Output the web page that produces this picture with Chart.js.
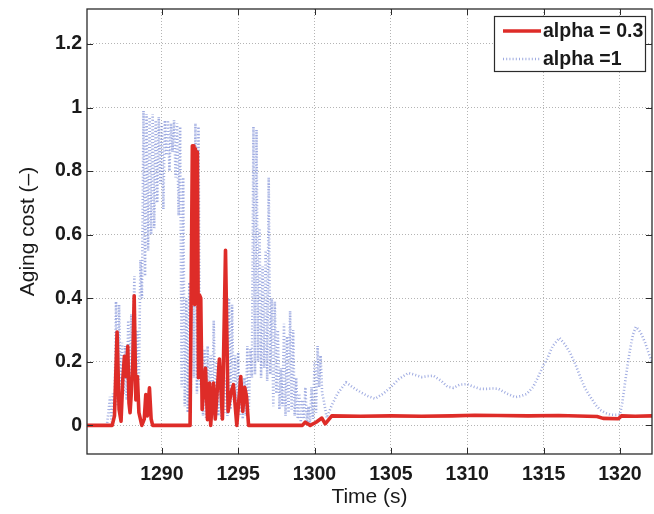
<!DOCTYPE html>
<html>
<head>
<meta charset="utf-8">
<title>Aging cost</title>
<script src="https://cdn.jsdelivr.net/npm/chart.js@4/dist/chart.umd.min.js"></script>
<style>
    html, body { margin: 0; padding: 0; background: #fff; }
    #wrap { width: 654px; height: 514px; }
</style>
</head>
<body>
<div id="wrap"><canvas id="cost-chart" width="654" height="514"></canvas></div>
<script>
// alpha = 0.3 run
const redTime = [
    1285.1, 1286.75, 1286.9, 1287.07, 1287.2, 1287.33, 1287.45, 1287.55, 1287.66, 1287.77,
    1287.85, 1287.92, 1288.0, 1288.1, 1288.19, 1288.3, 1288.4, 1288.5, 1288.69, 1288.85,
    1288.95, 1289.05, 1289.19, 1289.3, 1289.4, 1291.85, 1292.0, 1292.05, 1292.1, 1292.15,
    1292.2, 1292.27, 1292.33, 1292.4, 1292.47, 1292.55, 1292.64, 1292.86, 1292.99, 1293.12,
    1293.2, 1293.38, 1293.5, 1293.77, 1293.97, 1294.17, 1294.34, 1294.52, 1294.69, 1294.91,
    1295.17, 1295.3, 1295.43, 1295.55, 1295.68, 1299.2, 1299.39, 1299.72, 1300.1, 1300.48,
    1300.7, 1301.13, 1303.0, 1305.0, 1307.0, 1309.0, 1310.5, 1312.0, 1314.0, 1316.0,
    1318.5, 1318.9, 1319.9, 1320.1, 1321.0, 1322.1
];
const redCost = [
    0, 0, 0.03, 0.294, 0.05, 0.013, 0.15, 0.217, 0.154, 0.249,
    0.07, 0.04, 0.1, 0.2, 0.408, 0.08, 0.154, 0.04, 0.0, 0.02,
    0.097, 0.03, 0.118, 0.02, 0.0, 0, 0.88, 0.62, 0.88, 0.38,
    0.87, 0.64, 0.86, 0.15, 0.41, 0.40, 0.05, 0.18, 0.018, 0.133,
    0.0, 0.133, 0.02, 0.209, 0.02, 0.551, 0.044, 0.102, 0.128, 0.0,
    0.154, 0.044, 0.12, 0.09, 0.0, 0, 0.01, 0.0, 0.01, 0.023,
    0.005, 0.03, 0.029, 0.03, 0.029, 0.03, 0.032, 0.031, 0.03, 0.031,
    0.028, 0.022, 0.021, 0.03, 0.029, 0.03
];

// alpha = 1 run
const blueTime = [
    1285.1, 1286.4, 1286.5, 1286.6, 1286.7, 1286.8, 1286.9, 1287.0, 1287.1, 1287.2,
    1287.3, 1287.4, 1287.5, 1287.6, 1287.7, 1287.8, 1287.9, 1288.0, 1288.1, 1288.2,
    1288.3, 1288.4, 1288.5, 1288.6, 1288.7, 1288.8, 1288.9, 1289.0, 1289.1, 1289.2,
    1289.3, 1289.4, 1289.5, 1289.6, 1289.7, 1289.8, 1289.9, 1290.0, 1290.1, 1290.2,
    1290.3, 1290.4, 1290.5, 1290.6, 1290.7, 1290.8, 1290.9, 1291.0, 1291.1, 1291.2,
    1291.3, 1291.4, 1291.5, 1291.6, 1291.7, 1291.8, 1291.9, 1292.0, 1292.1, 1292.2,
    1292.3, 1292.4, 1292.5, 1292.6, 1292.7, 1292.8, 1292.9, 1293.0, 1293.1, 1293.2,
    1293.3, 1293.4, 1293.5, 1293.6, 1293.7, 1293.8, 1293.9, 1294.0, 1294.1, 1294.2,
    1294.3, 1294.4, 1294.5, 1294.6, 1294.7, 1294.8, 1294.9, 1295.0, 1295.1, 1295.2,
    1295.3, 1295.4, 1295.5, 1295.6, 1295.7, 1295.8, 1295.9, 1296.0, 1296.1, 1296.2,
    1296.3, 1296.4, 1296.5, 1296.6, 1296.7, 1296.8, 1296.9, 1297.0, 1297.1, 1297.2,
    1297.3, 1297.4, 1297.5, 1297.6, 1297.7, 1297.8, 1297.9, 1298.0, 1298.1, 1298.2,
    1298.3, 1298.4, 1298.5, 1298.6, 1298.7, 1298.8, 1298.9, 1299.0, 1299.1, 1299.2,
    1299.3, 1299.4, 1299.5, 1299.6, 1299.7, 1299.8, 1299.9, 1300.0, 1300.1, 1300.2,
    1300.3, 1300.4, 1300.5, 1300.6, 1300.8, 1301.1, 1301.5, 1302.07, 1302.5, 1303.0,
    1303.5, 1303.97, 1304.5, 1305.0, 1305.5, 1306.15, 1306.5, 1307.0, 1307.4, 1307.8,
    1308.3, 1308.7, 1309.1, 1309.5, 1309.97, 1310.4, 1310.85, 1311.28, 1311.7, 1312.05,
    1312.6, 1313.14, 1313.5, 1313.9, 1314.3, 1314.56, 1315.0, 1315.21, 1315.6, 1316.04,
    1316.4, 1316.74, 1317.1, 1317.39, 1317.7, 1318.05, 1318.4, 1318.7, 1319.0, 1319.36,
    1319.7, 1320.0, 1320.15, 1320.33, 1320.5, 1320.66, 1320.85, 1321.04, 1321.25, 1321.43,
    1321.65, 1321.87, 1322.1
];
const blueCost = [
    0, 0, 0.04, 0.09, 0.01, 0.10, 0.03, 0.39, 0.06, 0.38,
    0.12, 0.26, 0.10, 0.25, 0.08, 0.33, 0.12, 0.35, 0.18, 0.47,
    0.10, 0.30, 0.14, 0.52, 0.40, 0.99, 0.47, 0.98, 0.55, 0.97,
    0.60, 0.98, 0.62, 0.96, 0.70, 0.97, 0.76, 0.95, 0.68, 0.96,
    0.85, 0.96, 0.80, 0.95, 0.86, 0.96, 0.78, 0.95, 0.66, 0.94,
    0.12, 0.78, 0.06, 0.40, 0.04, 0.45, 0.10, 0.80, 0.15, 0.95,
    0.10, 0.94, 0.12, 0.30, 0.03, 0.24, 0.02, 0.25, 0.04, 0.22,
    0.05, 0.33, 0.02, 0.20, 0.03, 0.18, 0.02, 0.16, 0.04, 0.15,
    0.03, 0.40, 0.05, 0.38, 0.08, 0.22, 0.02, 0.23, 0.03, 0.12,
    0.02, 0.15, 0.03, 0.25, 0.05, 0.24, 0.15, 0.94, 0.16, 0.93,
    0.20, 0.62, 0.15, 0.50, 0.18, 0.55, 0.14, 0.78, 0.16, 0.40,
    0.06, 0.39, 0.10, 0.30, 0.05, 0.18, 0.06, 0.32, 0.03, 0.28,
    0.04, 0.36, 0.05, 0.30, 0.03, 0.15, 0.02, 0.10, 0.01, 0.08,
    0.02, 0.12, 0.01, 0.06, 0.00, 0.12, 0.02, 0.20, 0.04, 0.25,
    0.12, 0.22, 0.10, 0.08, 0.024, 0.06, 0.10, 0.135, 0.12, 0.105,
    0.092, 0.084, 0.10, 0.12, 0.145, 0.165, 0.16, 0.152, 0.155, 0.156,
    0.14, 0.122, 0.118, 0.128, 0.13, 0.122, 0.115, 0.115, 0.116, 0.115,
    0.10, 0.089, 0.092, 0.099, 0.12, 0.144, 0.19, 0.207, 0.25, 0.275,
    0.255, 0.228, 0.19, 0.154, 0.118, 0.091, 0.065, 0.049, 0.04, 0.034,
    0.033, 0.034, 0.07, 0.133, 0.19, 0.238, 0.285, 0.31, 0.30, 0.285,
    0.26, 0.228, 0.20
];

const xTicks = [1290, 1295, 1300, 1305, 1310, 1315, 1320];
const yTicks = [0, 0.2, 0.4, 0.6, 0.8, 1, 1.2];
const seriesLabels = ['alpha = 0.3', 'alpha =1'];

const RED = '#de2c28';
const BLUE = 'rgba(95, 115, 205, 0.6)';
const AXIS = '#2b2b2b';
const FAMILY = '"Liberation Sans", Arial, sans-serif';
const tickFont = { family: FAMILY, size: 19.5, weight: 'bold' };
const titleFont = { family: FAMILY, size: 21, weight: 'normal' };

const toPoints = (xs, ys) => xs.map((x, i) => ({ x: x, y: ys[i] }));

// box, inward tick marks and the legend panel
const framePlugin = {
    id: 'frame',
    afterDatasetsDraw(chart) {
        const { ctx, chartArea: a, scales } = chart;
        ctx.save();
        ctx.strokeStyle = AXIS;
        ctx.lineWidth = 1.3;
        ctx.setLineDash([]);
        ctx.strokeRect(a.left, a.top, a.right - a.left, a.bottom - a.top);

        ctx.lineWidth = 1;
        ctx.beginPath();
        xTicks.forEach(v => {
            const px = Math.round(scales.x.getPixelForValue(v)) + 0.5;
            ctx.moveTo(px, a.bottom); ctx.lineTo(px, a.bottom - 6);
            ctx.moveTo(px, a.top); ctx.lineTo(px, a.top + 6);
        });
        yTicks.forEach(v => {
            const py = Math.round(scales.y.getPixelForValue(v)) + 0.5;
            ctx.moveTo(a.left, py); ctx.lineTo(a.left + 6, py);
            ctx.moveTo(a.right, py); ctx.lineTo(a.right - 6, py);
        });
        ctx.stroke();

        // legend
        const box = { x: 494, y: 16, w: 151, h: 55 };
        ctx.fillStyle = '#fff';
        ctx.fillRect(box.x, box.y, box.w, box.h);
        ctx.lineWidth = 1.2;
        ctx.strokeRect(box.x + 0.5, box.y + 0.5, box.w, box.h);

        const rows = [box.y + 15, box.y + 43];
        chart.data.datasets.forEach((ds, i) => {
            ctx.save();
            ctx.strokeStyle = ds.borderColor;
            ctx.lineWidth = ds.borderWidth;
            ctx.lineCap = 'butt';
            ctx.setLineDash(ds.borderDash || []);
            ctx.beginPath();
            ctx.moveTo(box.x + 9, rows[i]);
            ctx.lineTo(box.x + 47, rows[i]);
            ctx.stroke();
            ctx.restore();

            ctx.fillStyle = '#1a1a1a';
            ctx.font = 'bold 19.5px ' + FAMILY;
            ctx.textBaseline = 'middle';
            ctx.textAlign = 'left';
            ctx.fillText(ds.label, box.x + 49, rows[i] + 1);
        });
        ctx.restore();
    }
};

new Chart(document.getElementById('cost-chart'), {
    type: 'line',
    data: {
        datasets: [
            {
                label: seriesLabels[0],
                data: toPoints(redTime, redCost),
                borderColor: RED,
                borderWidth: 3.6,
                borderJoinStyle: 'round',
                pointRadius: 0,
                fill: false
            },
            {
                label: seriesLabels[1],
                data: toPoints(blueTime, blueCost),
                borderColor: BLUE,
                borderWidth: 2.6,
                borderDash: [1, 2.2],
                borderCapStyle: 'butt',
                pointRadius: 0,
                fill: false
            }
        ]
    },
    options: {
        responsive: false,
        animation: false,
        devicePixelRatio: 1,
        layout: { padding: { top: 9, right: 2, left: 0, bottom: 0 } },
        plugins: {
            legend: { display: false },
            tooltip: { enabled: false }
        },
        scales: {
            x: {
                type: 'linear',
                min: 1285.1,
                max: 1322.1,
                afterBuildTicks: scale => { scale.ticks = xTicks.map(v => ({ value: v })); },
                afterFit: scale => {
                    scale.height = 60;
                    scale.paddingLeft = 0;
                    scale.paddingRight = 0;
                },
                grid: { color: '#b4b4b4', lineWidth: 1, drawTicks: false },
                border: { display: false, dash: [1, 2] },
                ticks: {
                    font: tickFont,
                    color: '#1a1a1a',
                    padding: 9,
                    maxRotation: 0,
                    callback: v => String(v)
                },
                title: {
                    display: true,
                    text: 'Time (s)',
                    font: titleFont,
                    color: '#1a1a1a',
                    padding: { top: 0, bottom: 4 }
                }
            },
            y: {
                type: 'linear',
                min: -0.09,
                max: 1.31,
                afterBuildTicks: scale => { scale.ticks = yTicks.map(v => ({ value: v })); },
                afterFit: scale => {
                    scale.width = 87;
                    scale.paddingTop = 0;
                    scale.paddingBottom = 0;
                },
                grid: { color: '#b4b4b4', lineWidth: 1, drawTicks: false },
                border: { display: false, dash: [1, 2] },
                ticks: {
                    font: tickFont,
                    color: '#1a1a1a',
                    padding: 5,
                    callback: v => String(Math.round(v * 10) / 10)
                },
                title: {
                    display: true,
                    text: 'Aging cost (–)',
                    font: titleFont,
                    color: '#1a1a1a',
                    padding: { top: 16, bottom: 0 }
                }
            }
        }
    },
    plugins: [framePlugin]
});
</script>
</body>
</html>
